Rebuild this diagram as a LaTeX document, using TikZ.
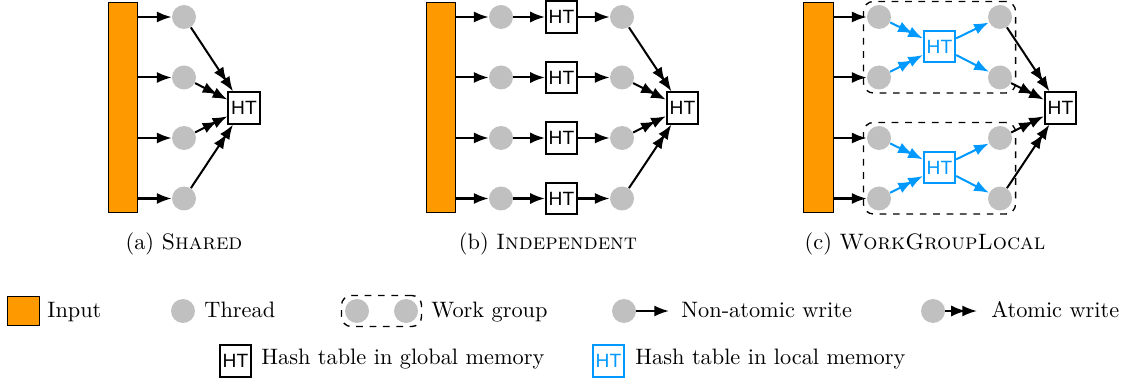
\documentclass[tikz,border=0pt]{standalone}
\usepackage{fontspec}
\newfontfamily\htfont{Liberation Sans}
\usetikzlibrary{arrows.meta,fit}

\definecolor{inorange}{RGB}{255,153,0}
\definecolor{threadgray}{RGB}{192,192,192}
\definecolor{htblue}{RGB}{0,153,255}

\tikzset{
  thread/.style={circle, fill=threadgray, minimum size=10.75pt, inner sep=0pt},
  htbox/.style={draw, line width=0.9pt, minimum size=14pt, inner sep=0pt,
    font=\htfont\fontsize{8.6}{10}\selectfont},
  localht/.style={htbox, draw=htblue, text=htblue},
  inputbar/.style={draw, line width=0.45pt, fill=inorange, minimum width=13.4pt,
    minimum height=94.5pt, inner sep=0pt},
  wgroup/.style={draw, dashed, line width=0.6pt, rounded corners=4.5pt, inner sep=1.4pt},
  tipone/.tip={Latex[length=6.6pt,width=5pt]},
  tiptwo/.tip={Latex[length=6.6pt,width=5pt,sep=-1.6pt]Latex[length=6.6pt,width=5pt]},
  plainw/.style={line width=0.9pt, -tipone},
  atomicw/.style={line width=0.9pt, -tiptwo},
  caption/.style={anchor=base, inner sep=0pt},
  legtext/.style={anchor=base west, inner sep=0pt},
}

\begin{document}
\begin{tikzpicture}[x=0.448pt, y=-0.448pt]
\useasboundingbox (0,0) rectangle (1128,380);

% ---------------- (a) Shared ----------------
\node[inputbar] (inA) at (123,107.5) {};
\foreach \i/\y in {1/17,2/77.5,3/138,4/198.5}
  \node[thread] (a\i) at (184,\y) {};
\node[htbox] (htA) at (244,108) {HT};
\foreach \i in {1,...,4} {
  \draw[plainw] (inA.east |- a\i) -- (a\i);
  \draw[atomicw] (a\i) -- (htA);
}
\node[caption] (capA) at (184,250) {(a) \textsc{Shared}};

% ---------------- (b) Independent ----------------
\node[inputbar] (inB) at (441,107.5) {};
\foreach \i/\y in {1/17,2/77.5,3/138,4/198.5} {
  \node[thread] (b\i) at (501,\y) {};
  \node[htbox] (hb\i) at (561.5,\y) {HT};
  \node[thread] (bb\i) at (622,\y) {};
}
\node[htbox] (htB) at (682.5,108) {HT};
\foreach \i in {1,...,4} {
  \draw[plainw] (inB.east |- b\i) -- (b\i);
  \draw[plainw] (b\i) -- (hb\i);
  \draw[plainw] (hb\i) -- (bb\i);
  \draw[atomicw] (bb\i) -- (htB);
}
\node[caption] (capB) at (548,250) {(b) \textsc{Independent}};

% ---------------- (c) WorkGroupLocal ----------------
\node[inputbar] (inC) at (818.5,107.5) {};
\foreach \i/\y in {1/17,2/77.5,3/138,4/198.5} {
  \node[thread] (c\i) at (879,\y) {};
  \node[thread] (cc\i) at (1000,\y) {};
}
\node[localht] (hl1) at (939.5,46.5) {HT};
\node[localht] (hl2) at (939.5,167.5) {HT};
\node[htbox] (htC) at (1060.5,108) {HT};
\node[wgroup, fit=(c1)(c2)(cc1)(cc2)] (wg1) {};
\node[wgroup, fit=(c3)(c4)(cc3)(cc4)] (wg2) {};
\foreach \i/\g in {1/1,2/1,3/2,4/2} {
  \draw[plainw] (inC.east |- c\i) -- (c\i);
  \draw[atomicw, htblue] (c\i) -- (hl\g);
  \draw[plainw, htblue] (hl\g) -- (cc\i);
  \draw[atomicw] (cc\i) -- (htC);
}
\node[caption] (capC) at (925,250) {(c) \textsc{WorkGroupLocal}};

% ---------------- legend ----------------
\node[draw, line width=0.45pt, fill=inorange, minimum width=13.9pt, minimum height=12.8pt,
  inner sep=0pt] (lgIn) at (23.5,311) {};
\node[legtext] (lgInT) at (47,317) {Input};

\node[thread] (lgTh) at (183,311) {};
\node[legtext] (lgThT) at (204,317) {Thread};

\node[thread] (lgW1) at (357,311) {};
\node[thread] (lgW2) at (406,311) {};
\node[wgroup, fit=(lgW1)(lgW2)] (lgWG) {};
\node[legtext] (lgWGT) at (431,317) {Work group};

\node[thread] (lgNA) at (624,311) {};
\coordinate (lgNAe) at (669,311);
\draw[plainw] (lgNA) -- (lgNAe);
\node[legtext] (lgNAT) at (681,317) {Non-atomic write};

\node[thread] (lgA) at (933,311) {};
\coordinate (lgAe) at (977,311);
\draw[atomicw] (lgA) -- (lgAe);
\node[legtext] (lgAT) at (991,317) {Atomic write};

\node[htbox, minimum width=13.9pt, minimum height=14.3pt] (lgG) at (235.5,361) {HT};
\node[legtext] (lgGT) at (261,364.5) {Hash table in global memory};

\node[localht, minimum width=13.9pt, minimum height=14.3pt] (lgL) at (608.5,361) {HT};
\node[legtext] (lgLT) at (635,364.5) {Hash table in local memory};
\end{tikzpicture}
\end{document}
